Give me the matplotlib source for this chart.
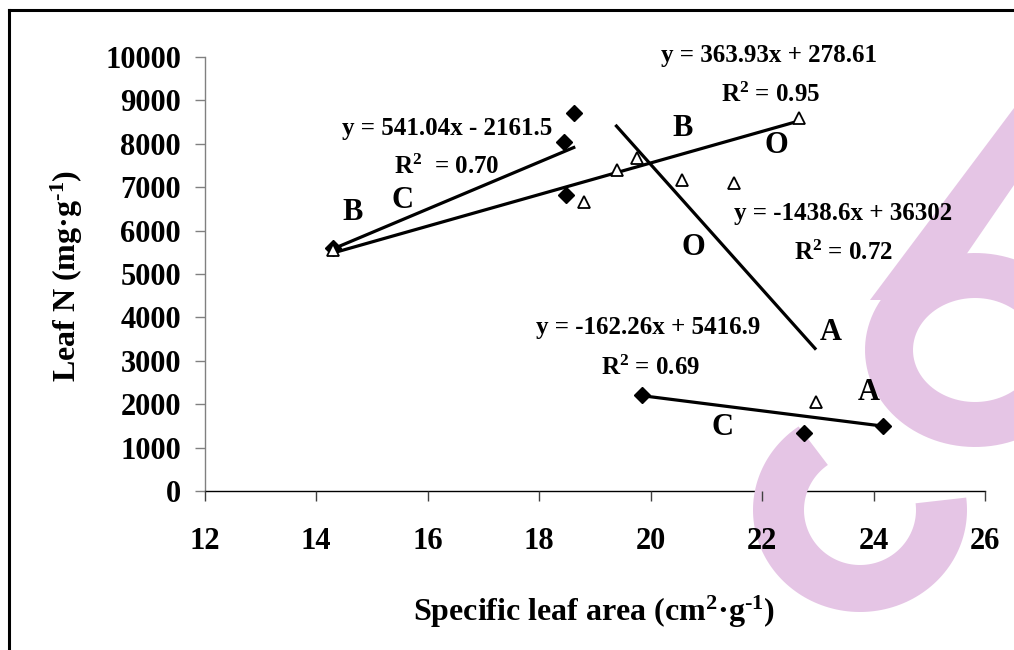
import numpy as np
import matplotlib
matplotlib.use('Agg')
import matplotlib.pyplot as plt
from matplotlib.path import Path
from matplotlib.patches import PathPatch, Polygon
import matplotlib.transforms as mtransforms
from matplotlib.lines import Line2D

plt.rcParams['font.family'] = ['Liberation Serif', 'DejaVu Serif']
plt.rcParams['font.weight'] = 'bold'
plt.rcParams['mathtext.fontset'] = 'custom'
plt.rcParams['mathtext.rm'] = 'Liberation Serif:bold'
plt.rcParams['mathtext.it'] = 'Liberation Serif:bold'
plt.rcParams['mathtext.bf'] = 'Liberation Serif:bold'

# ---------------- data ----------------
diamond_x = [14.30, 18.44, 18.62, 18.49, 19.85, 22.75, 24.17]
diamond_y = [5600, 8040, 8710, 6820, 2210, 1340, 1500]

triangle_x = [14.30, 18.80, 19.40, 19.76, 20.57, 21.49, 22.66, 22.96]
triangle_y = [5560, 6660, 7400, 7670, 7170, 7100, 8590, 2050]

fit_slope = [541.04, 363.93, -1438.6, -162.26]
fit_intercept = [-2161.5, 278.61, 36302, 5416.9]
fit_x_start = [14.30, 14.30, 19.37, 19.85]
fit_x_end = [18.65, 22.66, 22.97, 24.17]
fit_eq_text = ["y = 541.04x - 2161.5", "y = 363.93x + 278.61",
               "y = -1438.6x + 36302", "y = -162.26x + 5416.9"]
fit_r2_text = ["R$^2$  = 0.70", "R$^2$ = 0.95", "R$^2$ = 0.72", "R$^2$ = 0.69"]

group_letters = ["B", "C", "B", "O", "O", "A", "A", "C"]

x_ticks = [12, 14, 16, 18, 20, 22, 24, 26]
y_ticks = [0, 1000, 2000, 3000, 4000, 5000, 6000, 7000, 8000, 9000, 10000]

x_label = "Specific leaf area (cm$^2$·g$^{\\text{-}1}$)"
y_label = "Leaf N (mg·g$^{\\text{-}1}$)"

# ---------------- figure ----------------
W, H = 1014, 650
fig = plt.figure(figsize=(W / 100, H / 100), dpi=100)
ax = fig.add_axes([204.5 / W, 1 - 491 / H, (985 - 204.5) / W, (491 - 57) / H])

px = mtransforms.Affine2D().scale(1 / W, -1 / H).translate(0, 1) + fig.transFigure

# watermark
pink = '#E5C5E5'

def ellipse_pts(cx, cy, rx, ry, t0, t1, n=120):
    t = np.radians(np.linspace(t0, t1, n))
    return np.column_stack([cx + rx * np.cos(t), cy - ry * np.sin(t)])

outer = ellipse_pts(975, 350, 110, 97, 0, 360)
inner = ellipse_pts(975, 350, 62, 52, 360, 0)
verts = np.vstack([outer, outer[:1], inner, inner[:1]])
codes = ([Path.MOVETO] + [Path.LINETO] * (len(outer) - 1) + [Path.CLOSEPOLY] +
         [Path.MOVETO] + [Path.LINETO] * (len(inner) - 1) + [Path.CLOSEPOLY])
ring = PathPatch(Path(verts, codes), facecolor=pink, edgecolor='none',
                 transform=px, clip_on=False, zorder=1.5)
ax.add_patch(ring)

c_out = ellipse_pts(860, 510, 107, 102, 125, 367)
c_in = ellipse_pts(860, 510, 56, 55, 367, 125)
cshape = Polygon(np.vstack([c_out, c_in]), closed=True, facecolor=pink,
                 edgecolor='none', transform=px, clip_on=False, zorder=1.5)
ax.add_patch(cshape)

band = Polygon([(1014, 108), (1014, 185), (935, 300), (870, 300)], closed=True,
               facecolor=pink, edgecolor='none', transform=px, clip_on=False,
               zorder=1.5)
ax.add_patch(band)

# regression lines
for m, b, x0, x1 in zip(fit_slope, fit_intercept, fit_x_start, fit_x_end):
    xs = np.array([x0, x1])
    ax.plot(xs, m * xs + b, color='black', lw=2.3, solid_capstyle='butt', zorder=2)

# points
ax.plot(diamond_x, diamond_y, linestyle='none', marker='D', markersize=8,
        color='black', zorder=4)
ax.plot(triangle_x, triangle_y, linestyle='none', marker='^', markersize=9,
        markerfacecolor='white', markeredgecolor='black', markeredgewidth=1.3,
        zorder=4)

# equation texts (placement)
eq_pos = [(16.35, 8360), (22.12, 10040), (23.46, 6400), (19.96, 3760)]
r2_pos = [(16.35, 7470), (22.15, 9120), (23.46, 5480), (20.0, 2830)]
for t, (x, y) in zip(fit_eq_text, eq_pos):
    ax.text(x, y, t, fontsize=18, fontweight='bold', ha='center', va='center',
            clip_on=False, zorder=5)
for t, (x, y) in zip(fit_r2_text, r2_pos):
    ax.text(x, y, t, fontsize=18, fontweight='bold', ha='center', va='center',
            clip_on=False, zorder=5)

letter_pos = [(14.65, 6410), (15.55, 6700), (20.57, 8360), (22.26, 7970),
              (20.77, 5620), (23.23, 3660), (23.91, 2280), (21.29, 1470)]
for t, (x, y) in zip(group_letters, letter_pos):
    ax.text(x, y, t, fontsize=22, fontweight='bold', ha='center', va='center',
            zorder=5)

# axes styling
ax.set_xlim(12, 26)
ax.set_ylim(0, 10000)
ax.set_xticks(x_ticks)
ax.set_yticks(y_ticks)
ax.set_xticklabels([str(v) for v in x_ticks])
ax.set_yticklabels([str(v) for v in y_ticks])
for s in ['top', 'right']:
    ax.spines[s].set_visible(False)
ax.spines['left'].set_color('#808080')
ax.spines['bottom'].set_color('#000000')
ax.spines['left'].set_linewidth(1.0)
ax.spines['bottom'].set_linewidth(1.0)
ax.spines['left'].set_zorder(1)
ax.spines['bottom'].set_zorder(1)
ax.tick_params(axis='y', direction='out', length=7, width=1, color='#808080',
               pad=10, labelsize=22)
ax.tick_params(axis='x', direction='out', length=7, width=1, color='#404040',
               pad=19, labelsize=22)
for lab in ax.get_xticklabels() + ax.get_yticklabels():
    lab.set_fontweight('bold')
ax.xaxis.set_zorder(3)
ax.patch.set_alpha(0)

fig.text(594 / W, 1 - 612 / H, x_label, fontsize=23, fontweight='bold',
         ha='center', va='center')
fig.text(67 / W, 1 - 276 / H, y_label, fontsize=23, fontweight='bold',
         ha='center', va='center', rotation=90)

# figure frame (left and top)
fig.add_artist(Line2D([9, 9], [10, 650], transform=px, color='black', lw=2.2))
fig.add_artist(Line2D([9, 1014], [10, 10], transform=px, color='black', lw=2.2))

fig.savefig('out.png', dpi=100)
